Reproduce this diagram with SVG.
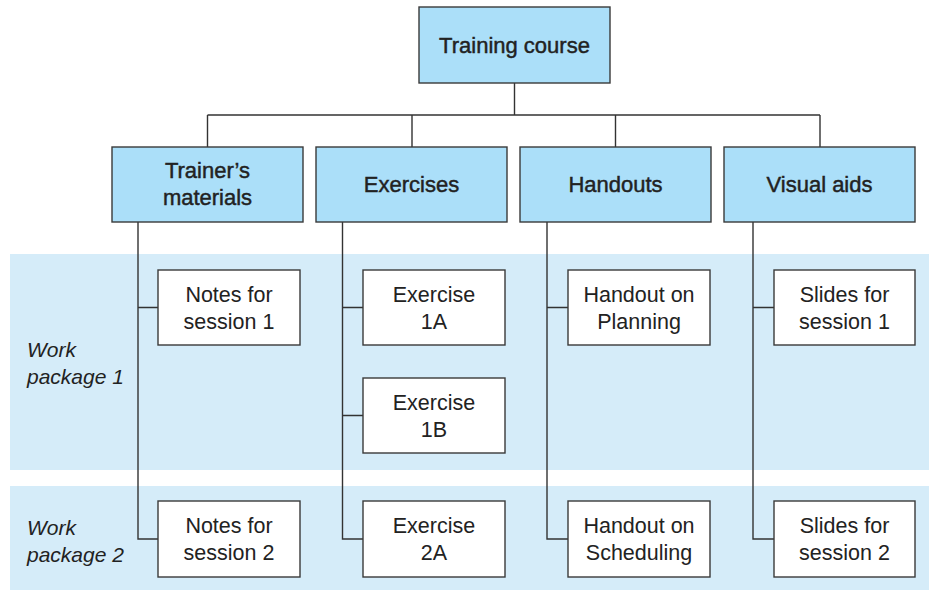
<svg xmlns="http://www.w3.org/2000/svg" width="929" height="590" viewBox="0 0 929 590">
<style>
.band{fill:#d5ecf9}
.hdr{fill:#abdff9;stroke:#3a3a3a;stroke-width:1.4}
.leaf{fill:#ffffff;stroke:#3a3a3a;stroke-width:1.4}
.conn{fill:none;stroke:#333;stroke-width:1.4}
text{font-family:"Liberation Sans",Arial,sans-serif;fill:#222;text-anchor:middle}
.ht{font-size:22px;stroke:#222;stroke-width:0.45}
.lt{font-size:21.5px}
.wp{font-size:21px;font-style:italic;text-anchor:start}
</style>
<rect width="929" height="590" fill="#ffffff"/>
<g id="bands">
<rect class="band" x="10" y="254" width="919" height="216"/>
<rect class="band" x="10" y="486" width="919" height="104"/>
<text class="wp" x="27" y="357">Work</text>
<text class="wp" x="27" y="384">package 1</text>
<text class="wp" x="27" y="535">Work</text>
<text class="wp" x="27" y="562">package 2</text>
</g>
<g id="connectors">
<path class="conn" d="M514.5 83V115M207.5 115H820M207.5 115V147M412 115V147M615.5 115V147M820 115V147"/>
<path class="conn" d="M138 222V539H158M138 307.5H158"/>
<path class="conn" d="M342.5 222V539H363M342.5 307.5H363M342.5 415.5H363"/>
<path class="conn" d="M547 222V539H568M547 307.5H568"/>
<path class="conn" d="M753 222V539H774M753 307.5H774"/>
</g>
<g id="training-course">
<rect class="hdr" x="419" y="7" width="191" height="76"/>
<text class="ht" x="514.5" y="53">Training course</text>
</g>
<g id="trainers-materials">
<rect class="hdr" x="112" y="147" width="191" height="75"/>
<text class="ht" x="207.5" y="178">Trainer’s</text>
<text class="ht" x="207.5" y="205">materials</text>
</g>
<g id="exercises">
<rect class="hdr" x="316" y="147" width="191" height="75"/>
<text class="ht" x="411.5" y="192">Exercises</text>
</g>
<g id="handouts">
<rect class="hdr" x="520" y="147" width="191" height="75"/>
<text class="ht" x="615.5" y="192">Handouts</text>
</g>
<g id="visual-aids">
<rect class="hdr" x="724" y="147" width="191" height="75"/>
<text class="ht" x="819.5" y="192">Visual aids</text>
</g>
<g id="notes1">
<rect class="leaf" x="158" y="270" width="142" height="75"/>
<text class="lt" x="229" y="302">Notes for</text>
<text class="lt" x="229" y="329">session 1</text>
</g>
<g id="notes2">
<rect class="leaf" x="158" y="501" width="142" height="76"/>
<text class="lt" x="229" y="533">Notes for</text>
<text class="lt" x="229" y="560">session 2</text>
</g>
<g id="ex1a">
<rect class="leaf" x="363" y="270" width="142" height="75"/>
<text class="lt" x="434" y="302">Exercise</text>
<text class="lt" x="434" y="329">1A</text>
</g>
<g id="ex1b">
<rect class="leaf" x="363" y="378" width="142" height="75"/>
<text class="lt" x="434" y="410">Exercise</text>
<text class="lt" x="434" y="437">1B</text>
</g>
<g id="ex2a">
<rect class="leaf" x="363" y="501" width="142" height="76"/>
<text class="lt" x="434" y="533">Exercise</text>
<text class="lt" x="434" y="560">2A</text>
</g>
<g id="handout-planning">
<rect class="leaf" x="568" y="270" width="142" height="75"/>
<text class="lt" x="639" y="302">Handout on</text>
<text class="lt" x="639" y="329">Planning</text>
</g>
<g id="handout-scheduling">
<rect class="leaf" x="568" y="501" width="142" height="76"/>
<text class="lt" x="639" y="533">Handout on</text>
<text class="lt" x="639" y="560">Scheduling</text>
</g>
<g id="slides1">
<rect class="leaf" x="774" y="270" width="141" height="75"/>
<text class="lt" x="844.5" y="302">Slides for</text>
<text class="lt" x="844.5" y="329">session 1</text>
</g>
<g id="slides2">
<rect class="leaf" x="774" y="501" width="141" height="76"/>
<text class="lt" x="844.5" y="533">Slides for</text>
<text class="lt" x="844.5" y="560">session 2</text>
</g>
</svg>
